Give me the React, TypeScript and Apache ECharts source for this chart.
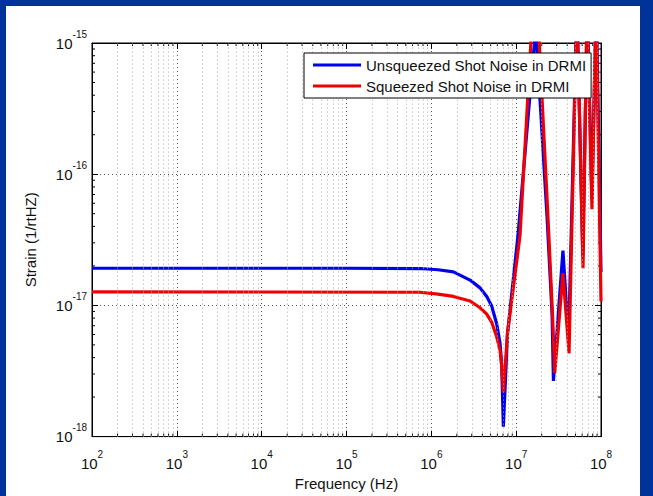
import React, { useEffect, useRef } from 'react';
import * as echarts from 'echarts';

const FONT = '"Liberation Sans", Arial, Helvetica, sans-serif';

const seriesNames = ['Unsqueezed Shot Noise in DRMI', 'Squeezed Shot Noise in DRMI'];

const blueFreq = [1e2, 1e5, 7.36e5, 1.2e6, 1.82e6, 2.86e6, 3.75e6, 4.5e6, 5.15e6, 5.9e6, 6.46e6, 6.76e6, 7.06e6, 7.9e6, 1.05e7, 1.7e7, 2.31e7, 2.65e7, 2.75e7, 3.56e7, 4.15e7, 5.2e7, 6.1e7, 6.9e7, 7.8e7, 8.8e7, 1e8];
const blueStrain = [1.92e-17, 1.92e-17, 1.91e-17, 1.87e-17, 1.8e-17, 1.56e-17, 1.36e-17, 1.17e-17, 9.88e-18, 7.22e-18, 5.12e-18, 3.44e-18, 1.19e-18, 6.1e-18, 3.4e-17, 1.3e-15, 4.78e-17, 8.57e-18, 2.66e-18, 2.62e-17, 5.5e-18, 2.0e-15, 2.4e-17, 2.0e-15, 6.5e-17, 2.0e-15, 1.8e-17];

const redFreq = [1e2, 7.36e5, 1.2e6, 1.82e6, 2.86e6, 3.75e6, 4.5e6, 5.15e6, 5.9e6, 6.46e6, 6.76e6, 7.06e6, 7.9e6, 1.11e7, 1.68e7, 2.37e7, 2.68e7, 2.85e7, 3.56e7, 4.2e7, 5.2e7, 6.14e7, 6.84e7, 7.83e7, 8.73e7, 1e8];
const redStrain = [1.27e-17, 1.26e-17, 1.22e-17, 1.17e-17, 1.08e-17, 9.6e-18, 8.57e-18, 7.43e-18, 5.74e-18, 4.56e-18, 3.43e-18, 2.17e-18, 6.1e-18, 3.4e-17, 4.0e-15, 4.78e-17, 8.6e-18, 3.05e-18, 1.76e-17, 4.3e-18, 2.0e-15, 1.92e-17, 2.0e-15, 5.4e-17, 2.0e-15, 1.07e-17];

const xMin = 1e2;
const xMax = 1e8;
const yMin = 1e-18;
const yMax = 1e-15;
const xDecades = [2, 3, 4, 5, 6, 7];
const yDecades = [-18, -17, -16];
const minorSteps = [2, 3, 4, 5, 6, 7, 8, 9];

const minorOf = (decades: number[]) => {
  const out: number[] = [];
  decades.forEach((e) => minorSteps.forEach((k) => out.push(Number((k * Math.pow(10, e)).toPrecision(3)))));
  return out;
};

const fmt = (v: number) => `{b|10}{s|${Math.round(Math.log10(v))}}`;
const rich = {
  b: { fontSize: 15, fontFamily: FONT, color: '#111', verticalAlign: 'middle' },
  s: { fontSize: 10, fontFamily: FONT, color: '#111', padding: [0, 0, 18, 0] },
};

export default function App() {
  const ref = useRef<HTMLDivElement>(null);
  useEffect(() => {
    if (!ref.current) return;
    const chart = echarts.init(ref.current, undefined, { renderer: 'svg' });
    const xMinor = minorOf(xDecades);
    const yMinor = minorOf(yDecades);
    const majorSplit = { show: true, lineStyle: { color: '#555', type: [1, 3], width: 1 } };
    const axisLine = { show: true, onZero: false, lineStyle: { color: '#000', width: 1 } };
    const tick = { show: true, inside: true, length: 6, lineStyle: { color: '#000', width: 1 } };
    const minorTickStyle = { stroke: '#000', lineWidth: 1 };
    const option: any = {
      animation: false,
      backgroundColor: 'transparent',
      grid: { left: 92, top: 43, right: 52, bottom: 51, show: true, backgroundColor: '#fff', borderColor: '#000', borderWidth: 1 },
      legend: {
        data: seriesNames.map((n) => ({ name: n, icon: 'rect' })),
        orient: 'vertical',
        left: 304,
        top: 53,
        z: 20,
        backgroundColor: '#fff',
        borderColor: '#000',
        borderWidth: 1,
        borderRadius: 0,
        padding: [4, 5, 4, 9],
        itemWidth: 48,
        itemHeight: 3,
        itemGap: 5,
        textStyle: { fontSize: 15, fontFamily: FONT, color: '#111', lineHeight: 16 },
        selectedMode: false,
      },
      xAxis: [
        {
          type: 'log', logBase: 10, min: xMin, max: xMax, position: 'bottom',
          axisLine, axisTick: tick,
          axisLabel: { formatter: fmt, rich, margin: 13, showMinLabel: true, showMaxLabel: true },
          splitLine: majorSplit,
          name: 'Frequency (Hz)', nameLocation: 'middle', nameGap: 38,
          nameTextStyle: { fontSize: 15, fontFamily: FONT, color: '#111' },
        },
        {
          type: 'log', logBase: 10, min: xMin, max: xMax, position: 'top',
          axisLine, axisTick: tick, axisLabel: { show: false }, splitLine: { show: false },
        },
      ],
      yAxis: [
        {
          type: 'log', logBase: 10, min: yMin, max: yMax, position: 'left',
          axisLine, axisTick: tick,
          axisLabel: { formatter: fmt, rich, margin: 5, showMinLabel: true, showMaxLabel: true },
          splitLine: majorSplit,
          name: 'Strain (1/rtHZ)', nameLocation: 'middle', nameGap: 54,
          nameTextStyle: { fontSize: 15, fontFamily: FONT, color: '#111' },
        },
        {
          type: 'log', logBase: 10, min: yMin, max: yMax, position: 'right',
          axisLine, axisTick: tick, axisLabel: { show: false }, splitLine: { show: false },
        },
      ],
      series: [
        {
          type: 'line', name: 'minor-grid', data: [], silent: true, z: 1,
          markLine: {
            silent: true, symbol: ['none', 'none'], label: { show: false }, animation: false,
            lineStyle: { color: '#aaa', type: [1, 3], width: 1 },
            data: [...xMinor.map((v) => ({ xAxis: v })), ...yMinor.map((v) => ({ yAxis: v }))],
          },
        },
        {
          type: 'custom', name: 'x-minor-ticks', silent: true, z: 2, clip: false,
          data: xMinor.map((v) => [v, yMin]),
          renderItem: (params: any, api: any) => {
            const b = api.coord([api.value(0), yMin]);
            const t = api.coord([api.value(0), yMax]);
            return {
              type: 'group',
              children: [
                { type: 'line', shape: { x1: b[0], y1: b[1], x2: b[0], y2: b[1] - 3 }, style: minorTickStyle },
                { type: 'line', shape: { x1: t[0], y1: t[1], x2: t[0], y2: t[1] + 3 }, style: minorTickStyle },
              ],
            };
          },
        },
        {
          type: 'custom', name: 'y-minor-ticks', silent: true, z: 2, clip: false,
          data: yMinor.map((v) => [xMin, v]),
          renderItem: (params: any, api: any) => {
            const l = api.coord([xMin, api.value(1)]);
            const r = api.coord([xMax, api.value(1)]);
            return {
              type: 'group',
              children: [
                { type: 'line', shape: { x1: l[0], y1: l[1], x2: l[0] + 3, y2: l[1] }, style: minorTickStyle },
                { type: 'line', shape: { x1: r[0], y1: r[1], x2: r[0] - 3, y2: r[1] }, style: minorTickStyle },
              ],
            };
          },
        },
        {
          type: 'line', name: seriesNames[0], z: 3, symbol: 'none', showSymbol: false, clip: true,
          data: blueFreq.map((f, i) => [f, blueStrain[i]]),
          lineStyle: { color: '#0000f0', width: 3.2 }, itemStyle: { color: '#0000f0' },
        },
        {
          type: 'line', name: seriesNames[1], z: 4, symbol: 'none', showSymbol: false, clip: true,
          data: redFreq.map((f, i) => [f, redStrain[i]]),
          lineStyle: { color: '#f00000', width: 3.2 }, itemStyle: { color: '#f00000' },
        },
      ],
    };
    chart.setOption(option);
    return () => chart.dispose();
  }, []);
  return (
    <div style={{ position: 'fixed', left: 0, top: 0, width: 653, height: 496, background: '#003399', overflow: 'hidden' }}>
      <div style={{ position: 'absolute', left: 6, top: 6, width: 634, height: 490, background: '#fff' }} />
      <div ref={ref} style={{ position: 'absolute', left: 0, top: 0, width: 653, height: 496 }} />
    </div>
  );
}
